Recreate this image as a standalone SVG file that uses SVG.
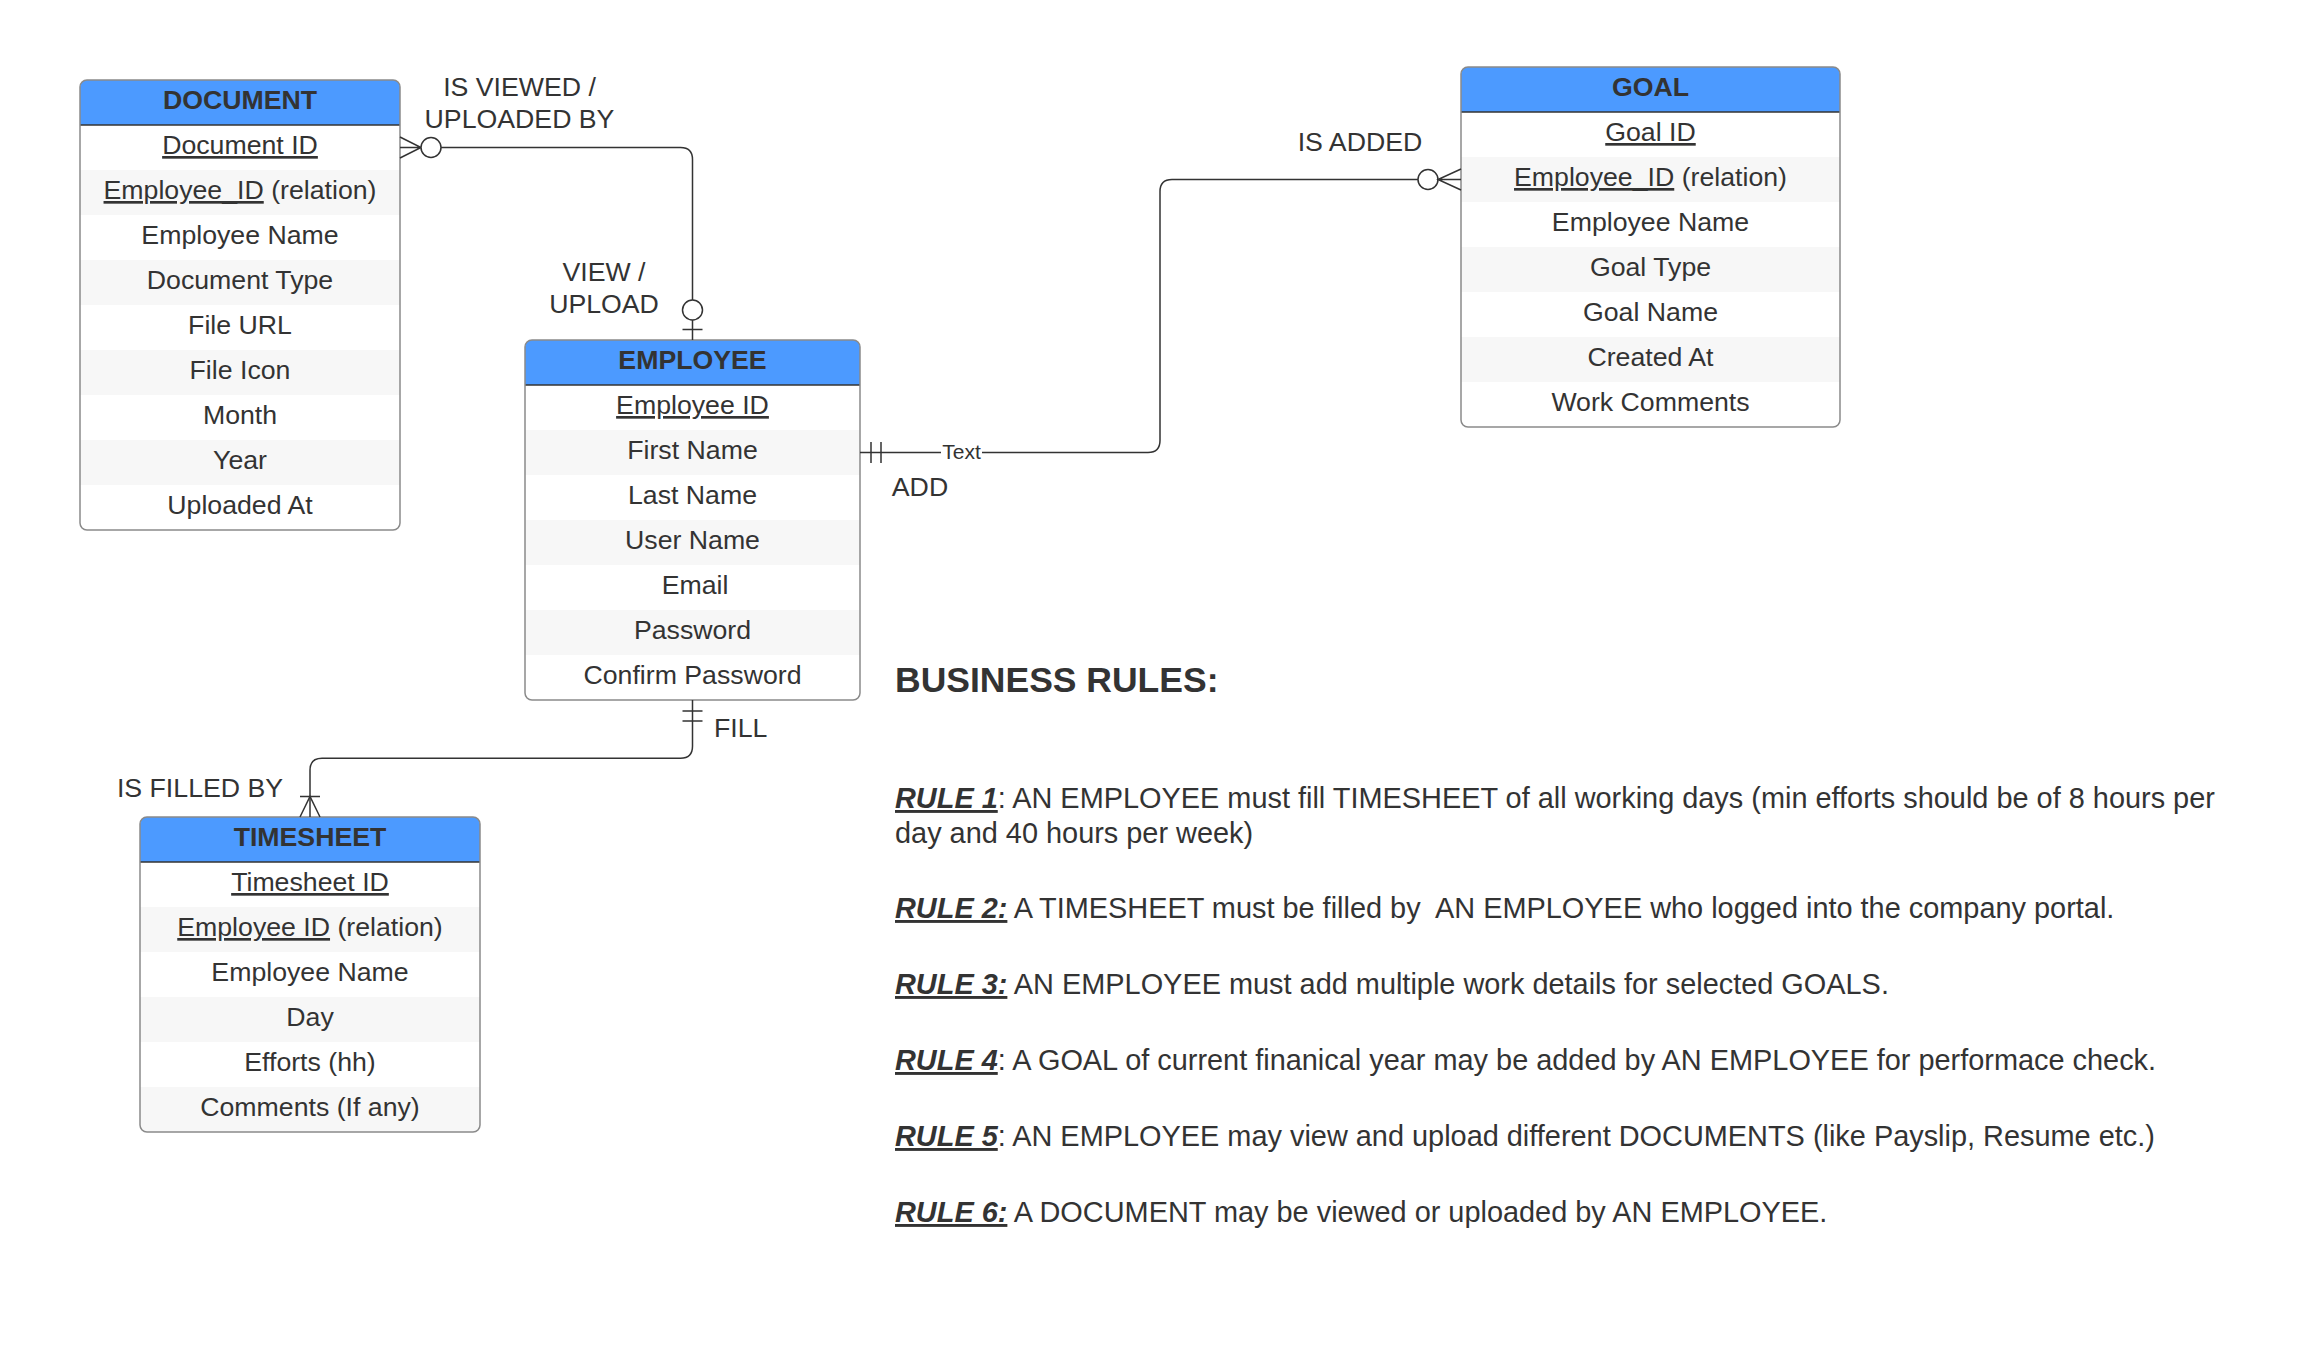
<svg xmlns="http://www.w3.org/2000/svg" width="2320" height="1360" viewBox="0 0 2320 1360">
<style>
text{font-family:"Liberation Sans",Arial,sans-serif;fill:#333333}
.t{font-size:26.7px;text-anchor:middle}
.h{font-size:26.7px;font-weight:bold;text-anchor:middle}
.u{text-decoration:underline}
.lbl{font-size:26.7px}
.hdr{fill:#4C9AFF}
.alt{fill:#f7f7f7}
.bg{fill:#ffffff}
.brd{fill:none;stroke:#8a8a8a;stroke-width:1.5}
.hl{stroke:#333333;stroke-width:1.5}
.c{fill:none;stroke:#333333;stroke-width:1.5}
.ci{fill:#ffffff;stroke:#333333;stroke-width:1.5}
.r{font-size:28.9px}
.rk{font-weight:bold;font-style:italic;text-decoration:underline}
.br{font-size:35.5px;font-weight:bold}
</style>
<defs>
<clipPath id="cDoc"><rect x="80" y="80" width="320" height="450" rx="7"/></clipPath>
<clipPath id="cEmp"><rect x="525" y="340" width="335" height="360" rx="7"/></clipPath>
<clipPath id="cGoal"><rect x="1461" y="67" width="379" height="360" rx="7"/></clipPath>
<clipPath id="cTs"><rect x="140" y="817" width="340" height="315" rx="7"/></clipPath>
</defs>

<g id="document">
<g clip-path="url(#cDoc)">
<rect class="bg" x="80" y="80" width="320" height="450"/>
<rect class="hdr" x="80" y="80" width="320" height="45"/>
<rect class="alt" x="80" y="170" width="320" height="45"/>
<rect class="alt" x="80" y="260" width="320" height="45"/>
<rect class="alt" x="80" y="350" width="320" height="45"/>
<rect class="alt" x="80" y="440" width="320" height="45"/>
</g>
<line class="hl" x1="80" y1="125" x2="400" y2="125"/>
<rect class="brd" x="80" y="80" width="320" height="450" rx="7"/>
<text class="h" x="240" y="109">DOCUMENT</text>
<text class="t" x="240" y="154"><tspan class="u">Document ID</tspan></text>
<text class="t" x="240" y="199"><tspan class="u">Employee_ID</tspan> (relation)</text>
<text class="t" x="240" y="244">Employee Name</text>
<text class="t" x="240" y="289">Document Type</text>
<text class="t" x="240" y="334">File URL</text>
<text class="t" x="240" y="379">File Icon</text>
<text class="t" x="240" y="424">Month</text>
<text class="t" x="240" y="469">Year</text>
<text class="t" x="240" y="514">Uploaded At</text>
</g>

<g id="employee">
<g clip-path="url(#cEmp)">
<rect class="bg" x="525" y="340" width="335" height="360"/>
<rect class="hdr" x="525" y="340" width="335" height="45"/>
<rect class="alt" x="525" y="430" width="335" height="45"/>
<rect class="alt" x="525" y="520" width="335" height="45"/>
<rect class="alt" x="525" y="610" width="335" height="45"/>
</g>
<line class="hl" x1="525" y1="385" x2="860" y2="385"/>
<rect class="brd" x="525" y="340" width="335" height="360" rx="7"/>
<text class="h" x="692.5" y="369">EMPLOYEE</text>
<text class="t" x="692.5" y="414"><tspan class="u">Employee ID</tspan></text>
<text class="t" x="692.5" y="459">First Name</text>
<text class="t" x="692.5" y="504">Last Name</text>
<text class="t" x="692.5" y="549">User Name</text>
<text class="t" x="695" y="594">Email</text>
<text class="t" x="692.5" y="639">Password</text>
<text class="t" x="692.5" y="684">Confirm Password</text>
</g>

<g id="goal">
<g clip-path="url(#cGoal)">
<rect class="bg" x="1461" y="67" width="379" height="360"/>
<rect class="hdr" x="1461" y="67" width="379" height="45"/>
<rect class="alt" x="1461" y="157" width="379" height="45"/>
<rect class="alt" x="1461" y="247" width="379" height="45"/>
<rect class="alt" x="1461" y="337" width="379" height="45"/>
</g>
<line class="hl" x1="1461" y1="112" x2="1840" y2="112"/>
<rect class="brd" x="1461" y="67" width="379" height="360" rx="7"/>
<text class="h" x="1650.5" y="96">GOAL</text>
<text class="t" x="1650.5" y="141"><tspan class="u">Goal ID</tspan></text>
<text class="t" x="1650.5" y="186"><tspan class="u">Employee_ID</tspan> (relation)</text>
<text class="t" x="1650.5" y="231">Employee Name</text>
<text class="t" x="1650.5" y="276">Goal Type</text>
<text class="t" x="1650.5" y="321">Goal Name</text>
<text class="t" x="1650.5" y="366">Created At</text>
<text class="t" x="1650.5" y="411">Work Comments</text>
</g>

<g id="timesheet">
<g clip-path="url(#cTs)">
<rect class="bg" x="140" y="817" width="340" height="315"/>
<rect class="hdr" x="140" y="817" width="340" height="45"/>
<rect class="alt" x="140" y="907" width="340" height="45"/>
<rect class="alt" x="140" y="997" width="340" height="45"/>
<rect class="alt" x="140" y="1087" width="340" height="45"/>
</g>
<line class="hl" x1="140" y1="862" x2="480" y2="862"/>
<rect class="brd" x="140" y="817" width="340" height="315" rx="7"/>
<text class="h" x="310" y="846">TIMESHEET</text>
<text class="t" x="310" y="891"><tspan class="u">Timesheet ID</tspan></text>
<text class="t" x="310" y="936"><tspan class="u">Employee ID</tspan> (relation)</text>
<text class="t" x="310" y="981">Employee Name</text>
<text class="t" x="310" y="1026">Day</text>
<text class="t" x="310" y="1071">Efforts (hh)</text>
<text class="t" x="310" y="1116">Comments (If any)</text>
</g>

<g id="connectors">
<!-- DOCUMENT - EMPLOYEE -->
<path class="c" d="M400,137 L421,147.5 L400,158 M400,147.5 H421"/>
<circle class="ci" cx="431" cy="147.5" r="10"/>
<path class="c" d="M441,147.5 H680.5 Q692.5,147.5 692.5,159.5 V300"/>
<circle class="ci" cx="692.5" cy="310" r="10"/>
<path class="c" d="M692.5,320 V340 M682.5,329.5 H702.5"/>
<!-- EMPLOYEE - GOAL -->
<path class="c" d="M860,452.5 H1148 Q1160,452.5 1160,440.5 V191.5 Q1160,179.5 1172,179.5 H1418"/>
<path class="c" d="M871,442 V463 M881,442 V463"/>
<circle class="ci" cx="1428" cy="179.5" r="10"/>
<path class="c" d="M1461,169 L1438,179.5 L1461,190 M1438,179.5 H1461"/>
<rect x="941" y="440" width="41" height="24" fill="#ffffff"/>
<text x="961.5" y="459" font-size="21" text-anchor="middle">Text</text>
<!-- EMPLOYEE - TIMESHEET -->
<path class="c" d="M692.5,700 V746.3 Q692.5,758.3 680.5,758.3 H322 Q310,758.3 310,770.3 V817"/>
<path class="c" d="M682.5,711 H702.5 M682.5,721 H702.5"/>
<path class="c" d="M300,796.5 H320 M300,817 L310,796.5 L320,817"/>
</g>

<g id="labels">
<text class="lbl" x="519.5" y="96" text-anchor="middle">IS VIEWED /</text>
<text class="lbl" x="519.5" y="128" text-anchor="middle">UPLOADED BY</text>
<text class="lbl" x="604" y="281" text-anchor="middle">VIEW /</text>
<text class="lbl" x="604" y="312.5" text-anchor="middle">UPLOAD</text>
<text class="lbl" x="920" y="496" text-anchor="middle">ADD</text>
<text class="lbl" x="1360" y="151" text-anchor="middle">IS ADDED</text>
<text class="lbl" x="714" y="737">FILL</text>
<text class="lbl" x="200" y="797" text-anchor="middle">IS FILLED BY</text>
</g>

<g id="rules">
<text class="br" x="895" y="692">BUSINESS RULES:</text>
<text class="r" x="895" y="808" xml:space="preserve"><tspan class="rk">RULE 1</tspan>: AN EMPLOYEE must fill TIMESHEET of all working days (min efforts should be of 8 hours per</text>
<text class="r" x="895" y="843">day and 40 hours per week)</text>
<text class="r" x="895" y="918" xml:space="preserve"><tspan class="rk">RULE 2:</tspan> A TIMESHEET must be filled by  AN EMPLOYEE who logged into the company portal.</text>
<text class="r" x="895" y="994" xml:space="preserve"><tspan class="rk">RULE 3:</tspan> AN EMPLOYEE must add multiple work details for selected GOALS.</text>
<text class="r" x="895" y="1070" xml:space="preserve"><tspan class="rk">RULE 4</tspan>: A GOAL of current finanical year may be added by AN EMPLOYEE for performace check.</text>
<text class="r" x="895" y="1146" xml:space="preserve"><tspan class="rk">RULE 5</tspan>: AN EMPLOYEE may view and upload different DOCUMENTS (like Payslip, Resume etc.)</text>
<text class="r" x="895" y="1222" xml:space="preserve"><tspan class="rk">RULE 6:</tspan> A DOCUMENT may be viewed or uploaded by AN EMPLOYEE.</text>
</g>
</svg>
